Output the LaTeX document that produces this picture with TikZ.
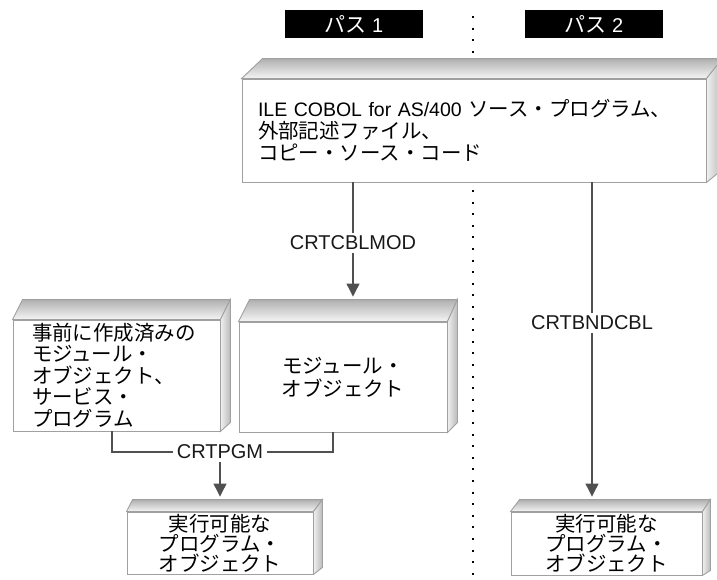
\documentclass[tikz,border=0pt]{standalone}
\usepackage{fontspec}
\setmainfont{Liberation Sans}
\newfontfamily\jp[Scale=1.05]{Noto Sans CJK JP}
\usetikzlibrary{arrows.meta,calc}
\definecolor{edgegray}{HTML}{A0A0A0}
\definecolor{conngray}{HTML}{505050}
\tikzset{
  face/.style={draw=edgegray, fill=white, line width=0.9pt, inner sep=0pt,
    font=\fontsize{19.5}{22}\selectfont},
  hdr/.style={fill=black, text=white, minimum width=138pt, minimum height=28pt,
    inner sep=0pt, font=\fontsize{20}{22}\selectfont},
  lab/.style={font=\fontsize{20}{22}\selectfont, inner xsep=4pt, inner ysep=3pt, text=black!90},
  wire/.style={draw=conngray, line width=1.1pt},
  arr/.style={wire, -{Triangle[length=13pt,width=13pt]}, shorten >=3pt},
  dotline/.style={draw=black, line width=2pt, dash pattern=on 2pt off 9.6pt},
}
% name, dx left, depth up, side dx, side rise at bottom
\newcommand\mkslab[5]{%
  \path[draw=edgegray, line width=0.9pt, top color=gray!62, bottom color=gray!8]
    (#1.north west) -- ++(#2,-#3) coordinate (#1-top)
    -- ($(#1.north east)+(#4,-#3)$) -- (#1.north east) -- cycle;
  \path[draw=edgegray, line width=0.9pt, left color=gray!12, right color=gray!55]
    (#1.north east) -- ($(#1.north east)+(#4,-#3)$)
    -- ($(#1.south east)+(#4,-#5)$) -- (#1.south east) -- cycle;
}
\begin{document}
\begin{tikzpicture}[x=1pt,y=-1pt]
\useasboundingbox (0,0) rectangle (717,579);

% dotted separator
\coordinate (dtop) at (473,16);
\coordinate (dbot) at (473,579);
\draw[dotline] (dtop) -- (dbot);

% headers
\node[hdr] (h1) at (354,24) {\jp パス\rmfamily{} 1};
\node[hdr] (h2) at (594,24) {\jp パス\rmfamily{} 2};

% source box
\node[face, minimum width=464pt, minimum height=103pt, text width=432pt,
      inner xsep=16pt, align=left] (src) at (474,130.5)
  {ILE COBOL for AS/400 {\jp ソース・プログラム、}\\
   {\jp 外部記述ファイル、}\\
   {\jp コピー・ソース・コード}};
\mkslab{src}{21}{20}{16}{13}

% prebuilt modules box
\node[face, minimum width=207pt, minimum height=111pt, text width=169pt,
      inner xsep=19pt, align=left, font=\fontsize{19.5}{21.5}\selectfont\jp] (pre) at (116.5,375.5)
  {事前に作成済みの\\モジュール・\\オブジェクト、\\サービス・\\プログラム};
\mkslab{pre}{10}{20}{10}{9}

% module object box
\node[face, minimum width=208pt, minimum height=110pt, align=center,
      font=\fontsize{19.5}{23}\selectfont\jp] (mod) at (343,377)
  {モジュール・\\オブジェクト};
\mkslab{mod}{11}{22}{10}{10}

% executable boxes
\node[face, minimum width=186pt, minimum height=62pt, align=center,
      font=\fontsize{19.5}{18.5}\selectfont\jp] (exe1) at (220,543)
  {実行可能な\\プログラム・\\オブジェクト};
\mkslab{exe1}{6}{12}{9}{7}

\node[face, minimum width=191pt, minimum height=63pt, align=center,
      font=\fontsize{19.5}{18.5}\selectfont\jp] (exe2) at (606.5,543.5)
  {実行可能な\\プログラム・\\オブジェクト};
\mkslab{exe2}{9}{12}{8}{5}

% labels
\node[lab] (l1) at (353,243) {CRTCBLMOD};
\node[lab] (l2) at (592,323) {CRTBNDCBL};
\node[lab] (l3) at (220,452) {CRTPGM};

% connectors
\draw[wire] (src.south -| l1) -- (l1.north);
\draw[arr] (l1.south) -- (l1 |- mod-top);
\draw[wire] (src.south -| l2) -- (l2.north);
\draw[arr] (l2.south) -- (l2 |- exe2-top);
\draw[wire] ([xshift=-4.5pt]pre.south) |- (l3.west);
\draw[wire] (l3.east) -| ([xshift=-10pt]mod.south);
\draw[arr] (l3.south) -- (l3 |- exe1-top);
\end{tikzpicture}
\end{document}
